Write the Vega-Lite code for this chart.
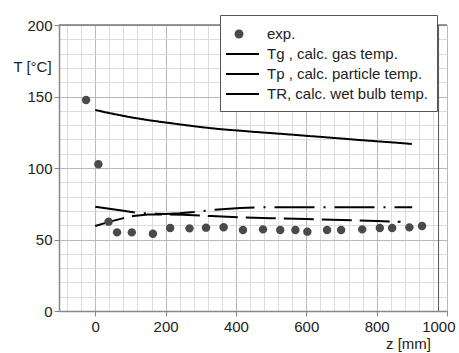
{
  "$schema": "https://vega.github.io/schema/vega-lite/v6.json",
  "width": 388,
  "height": 286,
  "autosize": "none",
  "padding": {"left": 59, "top": 25, "right": 12, "bottom": 42},
  "background": "white",
  "config": {
    "view": {"stroke": null},
    "font": "Liberation Sans",
    "axis": {
      "domainColor": "#888",
      "domainWidth": 1.5,
      "tickColor": "#888",
      "tickSize": 5,
      "labelFont": "Liberation Sans",
      "labelFontSize": 15,
      "labelColor": "#222",
      "titleFont": "Liberation Sans",
      "titleFontSize": 15,
      "titleFontWeight": "normal",
      "titleColor": "#222"
    }
  },
  "resolve": {"axis": {"x": "independent", "y": "independent"}},
  "datasets": {
    "exp": [
      {"z": -26, "T": 147.5, "series": "exp."},
      {"z": 9, "T": 102.6, "series": "exp."},
      {"z": 38, "T": 62.5, "series": "exp."},
      {"z": 62, "T": 55, "series": "exp."},
      {"z": 104, "T": 55, "series": "exp."},
      {"z": 164, "T": 54, "series": "exp."},
      {"z": 213, "T": 58, "series": "exp."},
      {"z": 268, "T": 57.8, "series": "exp."},
      {"z": 315, "T": 58.3, "series": "exp."},
      {"z": 365, "T": 58.6, "series": "exp."},
      {"z": 420, "T": 56.6, "series": "exp."},
      {"z": 477, "T": 57.1, "series": "exp."},
      {"z": 526, "T": 56.6, "series": "exp."},
      {"z": 569, "T": 56.6, "series": "exp."},
      {"z": 603, "T": 55.5, "series": "exp."},
      {"z": 659, "T": 56.6, "series": "exp."},
      {"z": 699, "T": 56.6, "series": "exp."},
      {"z": 759, "T": 57.1, "series": "exp."},
      {"z": 809, "T": 58, "series": "exp."},
      {"z": 844, "T": 58, "series": "exp."},
      {"z": 893, "T": 58.5, "series": "exp."},
      {"z": 929, "T": 59.4, "series": "exp."}
    ],
    "lines": [
      {"z": 0, "T": 140.6, "series": "gas"},
      {"z": 25, "T": 139.2, "series": "gas"},
      {"z": 50, "T": 137.9, "series": "gas"},
      {"z": 100, "T": 135.5, "series": "gas"},
      {"z": 150, "T": 133.5, "series": "gas"},
      {"z": 200, "T": 131.8, "series": "gas"},
      {"z": 250, "T": 130.2, "series": "gas"},
      {"z": 300, "T": 128.6, "series": "gas"},
      {"z": 350, "T": 127.3, "series": "gas"},
      {"z": 400, "T": 126.3, "series": "gas"},
      {"z": 450, "T": 125.3, "series": "gas"},
      {"z": 500, "T": 124.4, "series": "gas"},
      {"z": 550, "T": 123.5, "series": "gas"},
      {"z": 600, "T": 122.5, "series": "gas"},
      {"z": 650, "T": 121.6, "series": "gas"},
      {"z": 700, "T": 120.6, "series": "gas"},
      {"z": 750, "T": 119.6, "series": "gas"},
      {"z": 800, "T": 118.7, "series": "gas"},
      {"z": 850, "T": 117.8, "series": "gas"},
      {"z": 900, "T": 116.8, "series": "gas"},
      {"z": 0, "T": 59.4, "series": "particle"},
      {"z": 25, "T": 61.3, "series": "particle"},
      {"z": 50, "T": 63, "series": "particle"},
      {"z": 75, "T": 64.6, "series": "particle"},
      {"z": 108, "T": 66.4, "series": "particle"},
      {"z": 150, "T": 67.4, "series": "particle"},
      {"z": 200, "T": 67.6, "series": "particle"},
      {"z": 250, "T": 67.3, "series": "particle"},
      {"z": 330, "T": 66.4, "series": "particle"},
      {"z": 412, "T": 65.5, "series": "particle"},
      {"z": 500, "T": 64.9, "series": "particle"},
      {"z": 600, "T": 64.3, "series": "particle"},
      {"z": 700, "T": 63.7, "series": "particle"},
      {"z": 800, "T": 63, "series": "particle"},
      {"z": 868, "T": 62.4, "series": "particle"},
      {"z": 0, "T": 72.9, "series": "wet"},
      {"z": 40, "T": 71.5, "series": "wet"},
      {"z": 80, "T": 70.1, "series": "wet"},
      {"z": 120, "T": 68.7, "series": "wet"},
      {"z": 160, "T": 68, "series": "wet"},
      {"z": 200, "T": 67.9, "series": "wet"},
      {"z": 240, "T": 68.4, "series": "wet"},
      {"z": 280, "T": 69.2, "series": "wet"},
      {"z": 330, "T": 70.6, "series": "wet"},
      {"z": 412, "T": 72, "series": "wet"},
      {"z": 460, "T": 72.5, "series": "wet"},
      {"z": 600, "T": 72.5, "series": "wet"},
      {"z": 750, "T": 72.5, "series": "wet"},
      {"z": 901, "T": 72.5, "series": "wet"}
    ]
  },
  "layer": [
    {
      "data": {"name": "exp"},
      "mark": {"type": "point", "opacity": 0},
      "encoding": {
        "x": {
          "field": "z", "type": "quantitative",
          "scale": {"domain": [-103, 1000], "nice": false, "zero": false},
          "axis": {
            "orient": "bottom",
            "values": [-80,-40,40,80,120,160,240,280,320,360,440,480,520,560,640,680,720,760,840,880,920,960],
            "title": null, "labels": false, "ticks": false, "domain": false,
            "grid": true, "gridColor": "#dcdcdc"
          }
        },
        "y": {
          "field": "T", "type": "quantitative",
          "scale": {"domain": [0, 200], "nice": false},
          "axis": {
            "orient": "left",
            "values": [10,20,30,40,60,70,80,90,110,120,130,140,160,170,180,190],
            "title": null, "labels": false, "ticks": false, "domain": false,
            "grid": true, "gridColor": "#dcdcdc"
          }
        }
      }
    },
    {
      "data": {"name": "lines"},
      "mark": {"type": "line", "strokeWidth": 2, "color": "black"},
      "encoding": {
        "x": {
          "field": "z", "type": "quantitative",
          "axis": {
            "orient": "bottom",
            "values": [0, 200, 400, 600, 800, 1000],
            "format": "d",
            "title": "z [mm]",
            "titleX": 349, "titleY": 32,
            "titleAlign": "center", "titleBaseline": "middle",
            "grid": true, "gridColor": "#b8b8b8",
            "labelPadding": 3,
            "labelOverlap": false,
            "labelFlush": true,
            "labelFlushOffset": 8
          }
        },
        "y": {
          "field": "T", "type": "quantitative",
          "axis": {
            "orient": "left",
            "values": [0, 50, 100, 150, 200],
            "format": "d",
            "title": "T [°C]",
            "titleAngle": 0, "titleX": -27, "titleY": 41,
            "titleAlign": "center", "titleBaseline": "middle",
            "grid": true, "gridColor": "#b8b8b8",
            "labelOverlap": false,
            "labelPadding": 2
          }
        },
        "strokeDash": {
          "field": "series", "type": "nominal",
          "scale": {"domain": ["gas", "particle", "wet"], "range": [[1, 0], [30, 8], [40, 9, 2, 9]]},
          "legend": null
        }
      }
    },
    {
      "data": {"values": [{}]},
      "mark": {"type": "rule", "color": "#777", "strokeWidth": 1.5},
      "encoding": {"y": {"datum": 200, "type": "quantitative", "axis": null}}
    },
    {
      "data": {"values": [{}]},
      "mark": {"type": "rule", "color": "#555", "strokeWidth": 1},
      "encoding": {"x": {"datum": 976, "type": "quantitative", "axis": null}}
    },
    {
      "data": {"name": "exp"},
      "mark": {"type": "point", "filled": true, "size": 350, "opacity": 1, "strokeWidth": 0},
      "encoding": {
        "x": {"field": "z", "type": "quantitative", "axis": null},
        "y": {"field": "T", "type": "quantitative", "axis": null},
        "color": {
          "field": "series", "type": "nominal",
          "scale": {
            "domain": ["exp.", "Tg , calc. gas temp.", "Tp , calc. particle temp.", "TR, calc. wet bulb temp."],
            "range": ["#4a4a4a", "#000000", "#000000", "#000000"]
          },
          "legend": {
            "title": null,
            "orient": "none",
            "legendX": 161,
            "legendY": -10,
            "fillColor": "white",
            "strokeColor": "#555",
            "padding": 9,
            "symbolSize": 400,
            "symbolStrokeWidth": 0,
            "rowPadding": 2,
            "labelFontSize": 15,
            "labelColor": "#222",
            "labelFont": "Liberation Sans",
            "labelOffset": 18,
            "labelLimit": 300
          }
        },
        "shape": {
          "field": "series", "type": "nominal",
          "scale": {
            "domain": ["exp.", "Tg , calc. gas temp.", "Tp , calc. particle temp.", "TR, calc. wet bulb temp."],
            "range": [
              "M-0.45,0A0.45,0.45 0 1,1 0.45,0A0.45,0.45 0 1,1 -0.45,0Z",
              "M-1.3,-0.09H2V0.09H-1.3Z",
              "M-1.3,-0.09H2V0.09H-1.3Z",
              "M-1.3,-0.09H2V0.09H-1.3Z"
            ]
          },
          "legend": {
            "title": null,
            "orient": "none",
            "legendX": 161,
            "legendY": -10,
            "fillColor": "white",
            "strokeColor": "#555",
            "padding": 9,
            "symbolSize": 400,
            "symbolStrokeWidth": 0,
            "rowPadding": 2,
            "labelFontSize": 15,
            "labelColor": "#222",
            "labelFont": "Liberation Sans",
            "labelOffset": 18,
            "labelLimit": 300
          }
        }
      }
    }
  ]
}
